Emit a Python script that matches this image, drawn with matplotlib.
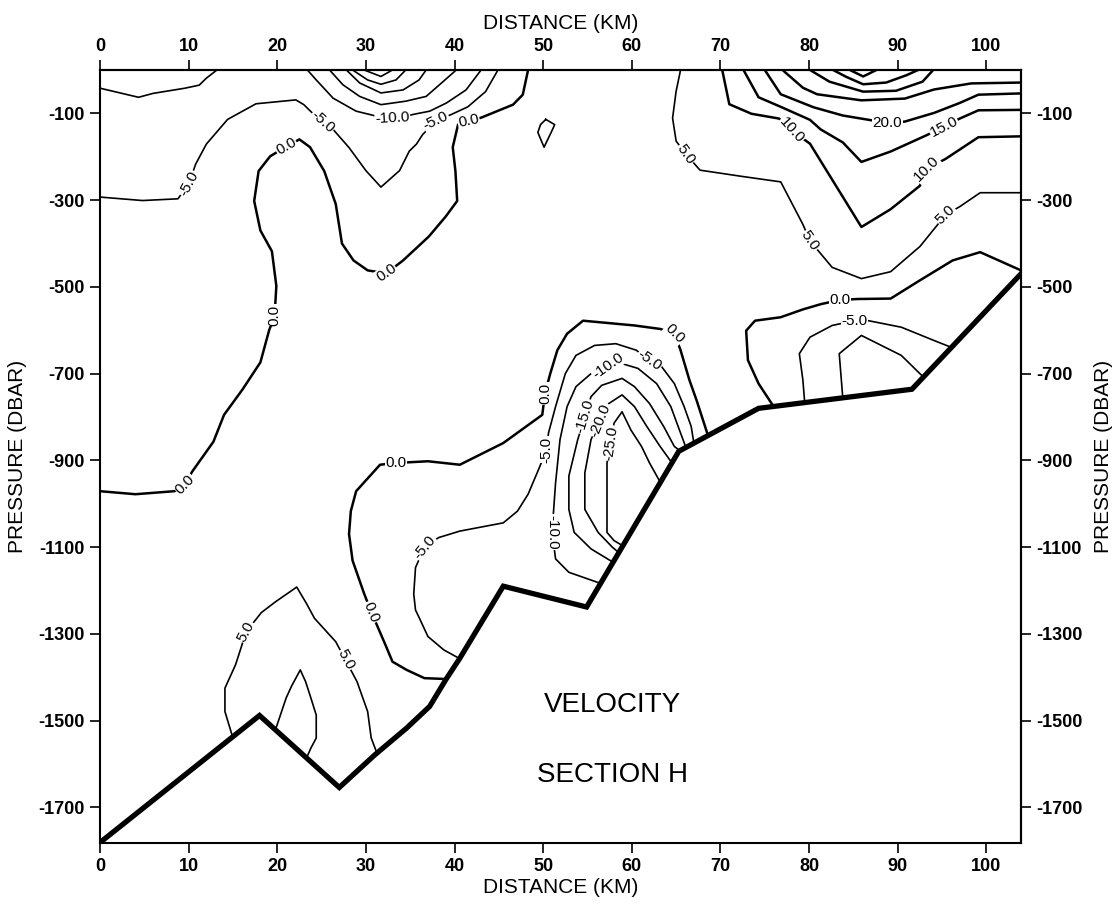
import matplotlib
matplotlib.use("Agg")
import matplotlib.pyplot as plt

plt.rcParams['font.family'] = ['Liberation Sans', 'DejaVu Sans']
plt.rcParams['axes.unicode_minus'] = False

# --- data (distance km, pressure dbar) ---
x_ticks = [0, 10, 20, 30, 40, 50, 60, 70, 80, 90, 100]
p_ticks = [-100, -300, -500, -700, -900, -1100, -1300, -1500, -1700]

# bottom topography
topo_km = [0, 18.0, 27.0, 31.0, 34.6, 37.2, 39.0, 40.6, 45.5, 54.9, 65.3, 74.3, 91.6, 103.9]
topo_p = [-1781, -1488, -1654, -1579, -1517, -1467, -1406, -1356, -1190, -1238, -879, -780, -736, -470]

# upper left
m10_surf_left = [(0, -42), (4.35, -63), (6.0, -54), (9.6, -42), (11.2, -35), (12.0, -19), (13.2, 0)]
m5_upper = [(0, -293), (4.8, -301), (8.8, -297), (10.0, -263), (10.8, -217), (12.0, -171), (14.4, -114),
            (17.6, -78), (22.1, -69), (23.0, -80), (25.1, -122), (26.3, -137), (28.1, -179), (30.0, -232),
            (31.7, -270), (33.8, -232), (34.9, -187), (35.7, -171), (36.4, -149), (37.9, -118), (39.6, -103),
            (41.5, -85), (43.5, -50), (44.9, 0)]
m10_top = [(23.4, 0), (24.4, -23), (26.3, -65), (28.9, -95), (31.3, -107), (33.2, -112), (35.7, -101),
           (37.2, -95), (39.1, -76), (41.3, -46), (43.0, 0)]
m15_top = [(25.9, 0), (27.4, -34), (29.3, -61), (31.7, -80), (34.5, -72), (36.8, -61), (38.7, -27), (40.2, 0)]
m20_top = [(27.8, 0), (29.3, -30), (31.7, -53), (34.2, -46), (36.0, -23), (36.8, 0)]
m25_top = [(28.5, 0), (30.2, -23), (31.7, -33), (33.4, -23), (34.5, 0)]
m30_top = [(29.8, 0), (31.7, -15), (33.0, 0)]
zero_upper = [(48.3, 0), (47.7, -57), (46.6, -80), (43.0, -110), (41.5, -119), (40.4, -126), (39.8, -178),
              (40.1, -233), (40.3, -302), (39.0, -338), (37.1, -384), (34.2, -439), (32.3, -469), (30.2, -462),
              (28.6, -439), (27.3, -400), (26.6, -309), (25.3, -233), (23.7, -178), (22.5, -160), (20.9, -178),
              (19.2, -199), (17.9, -233), (17.4, -302), (18.1, -370), (19.4, -418), (19.9, -498), (19.7, -567),
              (19.1, -599), (18.1, -674), (16.1, -736), (14.0, -795), (12.8, -857), (10.4, -926), (9.6, -955),
              (8.4, -971), (4.0, -978), (0, -971)]
loop_50 = [(50.3, -114), (51.3, -126), (50.9, -144), (50.1, -178), (49.4, -144), (49.7, -126), (50.3, -114)]

# upper right
p5_right = [(65.5, 0), (65.0, -49), (64.6, -111), (65.0, -164), (66.1, -194), (67.7, -231), (72.3, -245),
            (76.8, -258), (79.3, -356), (80.1, -394), (82.6, -455), (85.9, -481), (89.2, -465), (92.5, -407),
            (95.4, -334), (97.0, -315), (99.3, -283), (104, -283)]
p10_right = [(70.2, 0), (71.0, -79), (73.5, -101), (76.6, -112), (78.0, -139), (80.1, -170), (85.9, -362),
             (89.2, -321), (92.5, -267), (93.3, -228), (95.4, -205), (99.1, -155), (104, -153)]
p15_right = [(72.6, 0), (74.3, -63), (76.8, -85), (80.1, -115), (81.3, -137), (83.8, -167), (85.9, -212),
             (89.2, -188), (93.3, -150), (95.2, -131), (97.0, -112), (99.1, -93), (104, -92)]
p20_right = [(75.0, 0), (76.8, -56), (80.5, -86), (83.8, -105), (88.8, -122), (90.8, -119), (94.1, -99),
             (97.0, -76), (99.1, -57), (104, -54)]
p25_right = [(77.0, 0), (79.3, -41), (80.9, -56), (85.9, -70), (90.8, -66), (94.1, -45), (98.3, -31), (104, -29)]
p30_right = [(80.1, 0), (82.3, -27), (86.1, -50), (89.8, -48), (92.8, -27), (94.0, 0)]
p35_right = [(82.7, 0), (84.2, -16), (86.1, -33), (88.7, -29), (91.0, -12), (92.3, 0)]
p40_right = [(84.6, 0), (86.1, -15), (87.6, 0)]

# jet core over the slope
zero_core = [(68.6, -843), (67.3, -761), (66.5, -715), (65.5, -646), (64.8, -608), (63.2, -597), (60.3, -589),
             (54.5, -578), (52.7, -608), (51.6, -646), (50.8, -700), (50.2, -746), (49.9, -795), (45.5, -860),
             (40.6, -910), (37.0, -902), (33.4, -906), (31.6, -910), (28.9, -971), (28.3, -1017), (28.1, -1070),
             (28.5, -1131), (29.8, -1207), (30.6, -1249), (31.4, -1287), (32.2, -1325), (33.0, -1364),
             (34.6, -1383), (36.6, -1402), (39.1, -1404)]
m5_core = [(67.0, -860), (66.7, -822), (65.9, -776), (64.8, -723), (63.4, -685), (62.0, -669), (60.5, -646),
           (58.2, -631), (55.8, -635), (53.7, -658), (52.5, -700), (51.4, -776), (50.6, -837), (50.4, -875),
           (49.5, -920), (48.3, -978), (47.1, -1017), (45.5, -1044), (40.6, -1063), (38.2, -1078), (36.6, -1101),
           (35.6, -1147), (35.4, -1208), (35.6, -1245), (36.0, -1262), (37.0, -1306), (38.8, -1337), (40.4, -1355)]
m10_core = [(56.4, -1183), (52.9, -1158), (51.4, -1127), (51.0, -1066), (51.4, -952), (51.9, -852), (52.7, -776),
            (53.7, -730), (55.4, -700), (57.2, -681), (58.9, -677), (60.7, -688), (62.8, -723), (64.4, -776),
            (65.5, -837), (66.1, -870)]
m15_core = [(57.9, -1135), (55.4, -1104), (53.5, -1066), (52.9, -1013), (52.9, -936), (53.9, -852), (54.7, -799),
            (55.4, -753), (56.6, -727), (58.9, -711), (60.3, -730), (62.0, -769), (63.6, -822), (64.8, -868),
            (65.4, -877)]
m20_core = [(58.5, -1112), (57.8, -1100), (56.2, -1066), (54.7, -1013), (54.7, -929), (55.4, -852), (56.4, -807),
            (57.4, -769), (58.9, -749), (60.3, -776), (61.7, -822), (63.2, -868), (64.5, -905)]
m25_core = [(59.0, -1097), (58.0, -1085), (57.2, -1066), (57.2, -990), (57.2, -906), (57.6, -860), (58.0, -814),
            (58.9, -788), (59.9, -830), (61.1, -868), (62.0, -906), (63.2, -950)]

# mid right, above the slope
zero_midright = [(76.0, -776), (74.3, -723), (73.1, -669), (72.9, -601), (73.9, -578), (76.8, -570), (79.3, -552),
                 (81.3, -540), (83.5, -530), (85.5, -528), (89.2, -527), (92.5, -485), (96.2, -439), (99.3, -420),
                 (103.9, -462)]
m5_midright = [(79.5, -766), (79.3, -715), (78.9, -654), (80.1, -616), (82.6, -589), (85.1, -578), (86.7, -578),
               (90.4, -593), (94.5, -627), (96.0, -639)]
m10_midright = [(83.8, -756), (83.4, -654), (85.9, -612), (90.4, -658), (92.7, -704), (92.9, -708)]

# bottom left
p5_bottom = [(14.9, -1533), (14.1, -1479), (14.1, -1425), (15.3, -1371), (16.5, -1295), (18.2, -1251),
             (19.8, -1226), (22.2, -1192), (23.3, -1230), (24.2, -1264), (26.6, -1318), (27.7, -1360),
             (29.0, -1410), (30.2, -1479), (30.6, -1540), (31.2, -1572)]
p10_bottom = [(19.8, -1521), (21.0, -1448), (21.6, -1421), (22.6, -1383), (23.2, -1410), (23.8, -1448),
              (24.4, -1487), (24.4, -1540), (23.8, -1563), (23.3, -1586)]

# contour labels: text, distance, pressure, angle
label_txt = ["-5.0", "-5.0", "-10.0", "-5.0", "0.0", "0.0", "0.0", "0.0", "0.0",
             "0.0", "-5.0", "0.0", "0.0", "0.0", "-5.0", "-5.0", "-10.0", "-15.0", "-20.0", "-25.0", "-10.0",
             "5.0", "5.0", "5.0", "10.0", "20.0", "15.0", "10.0", "5.0", "5.0", "0.0", "-5.0"]
label_km = [10.0, 25.1, 33.0, 37.9, 41.6, 21.0, 32.3, 19.7, 9.6,
            33.4, 36.6, 30.6, 64.8, 50.2, 50.4, 62.0, 57.3, 54.7, 56.4, 57.6, 51.0,
            16.5, 27.7, 66.1, 78.0, 88.8, 95.2, 93.3, 80.1, 95.4, 83.5, 85.1]
label_p = [-262, -120, -112, -117, -118, -176, -468, -565, -955,
           -906, -1100, -1250, -608, -746, -875, -669, -683, -799, -807, -860, -1066,
           -1295, -1360, -194, -139, -122, -131, -228, -394, -334, -530, -578]
label_rot = [62, -42, 3, 25, 12, 30, 35, 90, 46,
             0, 50, -68, -45, 90, 90, -35, 35, 73, 68, 82, -90,
             62, -62, -55, -48, 0, 27, 45, -56, 44, 0, 0]

thin = [m10_surf_left, m5_upper, m10_top, m15_top, m20_top, m25_top, m30_top, loop_50,
        p5_right, m5_core, m10_core, m15_core, m20_core, m25_core, m5_midright, m10_midright,
        p5_bottom, p10_bottom]
heavy = [zero_upper, zero_core, zero_midright, p10_right, p15_right, p20_right, p25_right,
         p30_right, p35_right, p40_right]

fig = plt.figure(figsize=(11.13, 9.05), dpi=100)
ax = fig.add_axes([0.0898, 0.0685, 0.8275, 0.8542])

for line in thin:
    xs, ys = zip(*line)
    ax.plot(xs, ys, color='black', lw=1.2, solid_joinstyle='round', zorder=2)
for line in heavy:
    xs, ys = zip(*line)
    ax.plot(xs, ys, color='black', lw=1.8, solid_joinstyle='round', zorder=2)

ax.plot(topo_km, topo_p, color='black', lw=3.8, solid_joinstyle='miter', zorder=4)

for s, x, y, r in zip(label_txt, label_km, label_p, label_rot):
    ax.text(x, y, s, rotation=r, rotation_mode='anchor', ha='center', va='center',
            fontsize=11, zorder=5,
            bbox=dict(facecolor='white', edgecolor='none', pad=0.4))

ax.text(57.8, -1463, 'VELOCITY', fontsize=20, ha='center', va='center')
ax.text(57.8, -1626, 'SECTION H', fontsize=20, ha='center', va='center')

ax.set_xlim(0, 103.9)
ax.set_ylim(-1782, 0)
ax.set_xticks(x_ticks)
ax.set_xticklabels([str(v) for v in x_ticks], fontsize=13, fontweight='bold')
ax.set_yticks(p_ticks)
ax.set_yticklabels([str(v) for v in p_ticks], fontsize=13, fontweight='bold')
ax.tick_params(direction='out', length=7, width=1.2, pad=4)
ax.set_xlabel('DISTANCE (KM)', fontsize=15, labelpad=2)
ax.set_ylabel('PRESSURE (DBAR)', fontsize=15, labelpad=8)

secx = ax.secondary_xaxis('top')
secx.set_xticks(x_ticks)
secx.set_xticklabels([str(v) for v in x_ticks], fontsize=13, fontweight='bold')
secx.tick_params(direction='out', length=7, width=1.2, pad=4)
secx.set_xlabel('DISTANCE (KM)', fontsize=15, labelpad=6)

secy = ax.secondary_yaxis('right')
secy.set_yticks(p_ticks)
secy.set_yticklabels([str(v) for v in p_ticks], fontsize=13, fontweight='bold')
secy.tick_params(direction='out', length=7, width=1.2, pad=4)
secy.set_ylabel('PRESSURE (DBAR)', fontsize=15, labelpad=8)

for sp in ax.spines.values():
    sp.set_linewidth(1.5)
for sp in secx.spines.values():
    sp.set_linewidth(1.5)
for sp in secy.spines.values():
    sp.set_linewidth(1.5)

fig.savefig('out.png', dpi=100, facecolor='white')
